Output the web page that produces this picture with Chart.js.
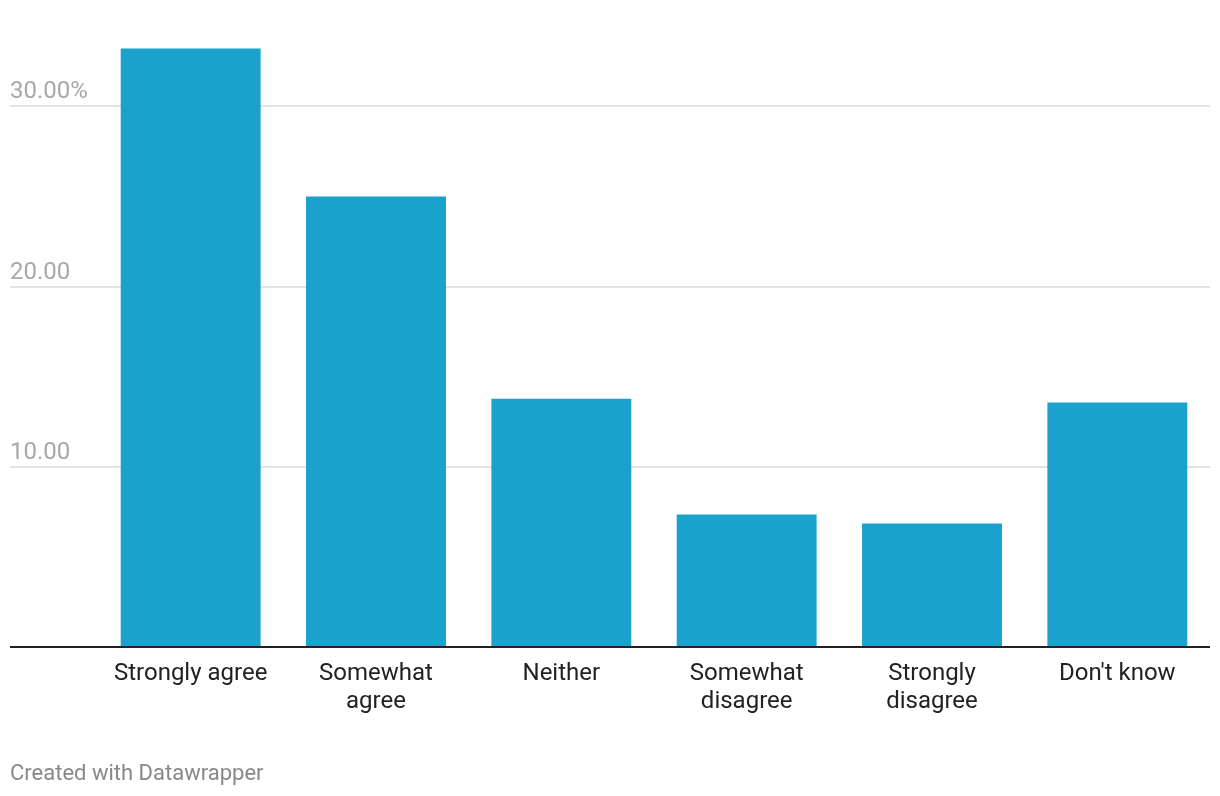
<!DOCTYPE html>
<html>
<head>
<meta charset="utf-8">
<script src="https://cdn.jsdelivr.net/npm/chart.js@4/dist/chart.umd.min.js"></script>
<style>
  body { margin: 0; background: #fff; }
  #wrap { position: relative; width: 1220px; height: 796px; }
  #footer {
    position: absolute; left: 10px; top: 760px;
    font-family: Roboto, sans-serif; font-size: 22px; color: #888;
  }
</style>
</head>
<body>
<div id="wrap">
  <canvas id="chart" width="1220" height="796"></canvas>
  <div id="footer">Created with Datawrapper</div>
</div>
<script>
// Categories and values (percent)
const categories = [
    "Strongly agree",
    ["Somewhat", "agree"],
    "Neither",
    ["Somewhat", "disagree"],
    ["Strongly", "disagree"],
    "Don't know"
];
const values = [33.2, 25.0, 13.8, 7.4, 6.9, 13.6];
const tickValues = [10, 20, 30];
const tickLabels = ["10.00", "20.00", "30.00%"];

// Draws full-width gridlines + labels and the baseline
const gridPlugin = {
    id: 'fullGrid',
    beforeDatasetsDraw(chart) {
        const ctx = chart.ctx;
        const y = chart.scales.y;
        ctx.save();
        ctx.strokeStyle = '#e3e3e3';
        ctx.lineWidth = 2;
        ctx.font = '24px Roboto, sans-serif';
        ctx.fillStyle = '#a8a8a8';
        ctx.textBaseline = 'alphabetic';
        tickValues.forEach((v, i) => {
            const py = Math.round(y.getPixelForValue(v));
            ctx.beginPath();
            ctx.moveTo(10, py);
            ctx.lineTo(1210, py);
            ctx.stroke();
            ctx.fillText(tickLabels[i], 10, py - 8);
        });
        ctx.restore();
    },
    afterDatasetsDraw(chart) {
        const ctx = chart.ctx;
        const py = Math.round(chart.scales.y.getPixelForValue(0));
        ctx.save();
        ctx.strokeStyle = '#222';
        ctx.lineWidth = 2;
        ctx.beginPath();
        ctx.moveTo(10, py - 1);
        ctx.lineTo(1210, py - 1);
        ctx.stroke();
        ctx.restore();
    }
};

const ctx = document.getElementById('chart').getContext('2d');
const chart = new Chart(ctx, {
    type: 'bar',
    data: {
        labels: categories,
        datasets: [{
            data: values,
            backgroundColor: '#1aa1cc',
            borderWidth: 0,
            categoryPercentage: 1,
            barPercentage: 0.755
        }]
    },
    options: {
        responsive: false,
        animation: false,
        layout: { padding: { left: 98, right: 10, top: 16, bottom: 48 } },
        plugins: {
            legend: { display: false },
            tooltip: { enabled: false }
        },
        scales: {
            x: {
                grid: { display: false, drawTicks: false },
                border: { display: false },
                ticks: {
                    color: '#222',
                    font: { family: 'Roboto, sans-serif', size: 24, lineHeight: 1.17 },
                    padding: 12,
                    maxRotation: 0,
                    autoSkip: false
                },
                afterFit(scale) { scale.height = 100; }
            },
            y: {
                display: false,
                min: 0,
                max: 35
            }
        }
    },
    plugins: [gridPlugin]
});
</script>
</body>
</html>
